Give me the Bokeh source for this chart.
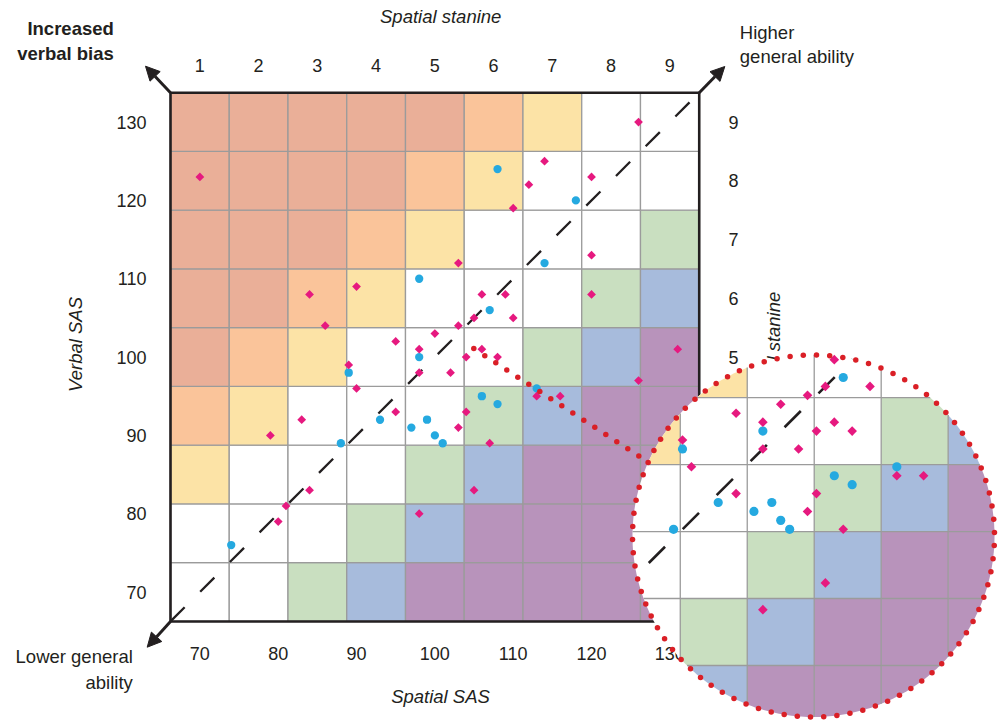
import numpy as np
from bokeh.plotting import figure
from bokeh.models import Range1d, Arrow, NormalHead
from bokeh.embed import file_html
from bokeh.resources import INLINE
from bokeh.core.properties import value

# ---------------- data ----------------
stanine_edges = [66.25, 73.75, 81.25, 88.75, 96.25, 103.75, 111.25, 118.75, 126.25, 133.75]
stanine_labels = ["1", "2", "3", "4", "5", "6", "7", "8", "9"]
sas_ticks = [70, 80, 90, 100, 110, 120, 130]

pink_spatial = [70, 84, 90, 86, 95, 100, 98, 89, 126, 114, 120, 112, 110, 103, 120, 106, 109, 120,
                105, 110, 103, 106, 104, 108, 131, 102, 98, 126, 113, 116, 104, 103, 107, 105, 98,
                90, 95, 83, 79, 84, 81, 80]
pink_verbal = [123, 108, 109, 104, 102, 103, 101, 99, 130, 125, 123, 122, 119, 112, 113, 108, 108, 108,
               105, 105, 104, 101, 100, 100, 101, 98, 98, 97, 95, 95, 93, 91, 89, 83, 80,
               96, 93, 92, 90, 83, 81, 79]
blue_spatial = [98, 98, 108, 118, 114, 107, 113, 106, 108, 99, 100, 101, 89, 93, 88, 97, 74]
blue_verbal = [110, 100, 124, 120, 112, 106, 96, 95, 94, 92, 90, 89, 98, 92, 89, 91, 76]

# ---------------- style ----------------
INK = "#231F20"
GRID = "#9b9b9b"
PINK = "#E6197F"
BLUE = "#25A9E0"
RED = "#DA1F26"
FONT = "Liberation Sans"
SALMON, ORANGE, YELLOW = "#EAAF98", "#FAC49A", "#FCE3A6"
GREEN, LBLUE, PURPLE = "#C9DFC0", "#A7BBDC", "#B893BB"


def bias_color(d):
    if d >= 4:
        return SALMON
    if d == 3:
        return ORANGE
    if d == 2:
        return YELLOW
    if d <= -4:
        return PURPLE
    if d == -3:
        return LBLUE
    if d == -2:
        return GREEN
    return "white"


# ---------------- geometry (picture pixels -> data) ----------------
W, H = 1003, 720
K = 7.833  # px per SAS point (both axes)


def X(px):
    return 66.25 + (px - 170.0) / K


def Y(py):
    return 133.75 - (py - 92.2) / K


p = figure(width=W, height=H, output_backend="svg", toolbar_location=None,
           x_range=Range1d(X(0), X(W)), y_range=Range1d(Y(H), Y(0)),
           x_axis_location=None, y_axis_location=None, min_border=0,
           outline_line_color=None, background_fill_color="white", border_fill_color="white")
p.grid.visible = False

# ---------------- main grid cells ----------------
L, Rr, T, B, C = [], [], [], [], []
for s in range(9):
    for v in range(9):
        L.append(stanine_edges[s]); Rr.append(stanine_edges[s + 1])
        B.append(stanine_edges[v]); T.append(stanine_edges[v + 1])
        C.append(bias_color(v - s))
p.quad(left=L, right=Rr, top=T, bottom=B, fill_color=C, line_color=GRID, line_width=1.3)
p.quad(left=[stanine_edges[0]], right=[stanine_edges[-1]], top=[stanine_edges[-1]],
       bottom=[stanine_edges[0]], fill_color=None, line_color=INK, line_width=2.6)

p.line(x=[stanine_edges[0], stanine_edges[-1]], y=[stanine_edges[0], stanine_edges[-1]],
       line_dash="20 22", line_width=2.3, line_color=INK)

p.scatter(x=blue_spatial, y=blue_verbal, marker="circle", size=8.3, fill_color=BLUE, line_color=None)
p.scatter(x=pink_spatial, y=pink_verbal, marker="square", angle=np.pi / 4, size=6.2,
          fill_color=PINK, line_color=None)

# ---------------- texts ----------------
centers = [(stanine_edges[i] + stanine_edges[i + 1]) / 2 for i in range(9)]


def txt(x, y, t, align="center", size="18.5px", style="normal", angle=0.0):
    p.text(x=x, y=y, text=t, text_font=value(FONT), text_font_size=size, text_font_style=style,
           text_align=align, text_baseline="middle", text_color=INK, angle=angle)


txt([X(440.2)], [Y(16.3)], ["Spatial stanine"], style="italic")
txt(centers, [Y(65)] * 9, stanine_labels, size="18px")
txt([X(733)] * 9, centers, stanine_labels, size="18px")
txt([X(146)] * len(sas_ticks), sas_ticks, [str(t) for t in sas_ticks], align="right", size="18px")
txt(sas_ticks, [Y(653)] * len(sas_ticks), [str(t) for t in sas_ticks], size="18px")
txt([X(113.3)] * 2, [Y(27.7), Y(52.7)], ["Increased", "verbal bias"], align="right", style="bold")
txt([X(739.3)] * 2, [Y(32.4), Y(55.9)], ["Higher", "general ability"], align="left")
txt([X(132.3)] * 2, [Y(655.5), Y(681.5)], ["Lower general", "ability"], align="right")
txt([X(440)], [Y(695.5)], ["Spatial SAS"], style="italic")
txt([X(75)], [Y(344)], ["Verbal SAS"], style="italic", angle=np.pi / 2)
txt([X(772.5)], [Y(350)], ["Verbal stanine"], style="italic", angle=np.pi / 2)

# ---------------- arrows ----------------
lo, hi = stanine_edges[0], stanine_edges[-1]
for xs, ys, xe, ye in [(lo, hi, X(145), Y(65.7)), (hi, hi, X(724.3), Y(66)),
                       (lo, lo, X(146.7), Y(646.7))]:
    p.add_layout(Arrow(end=NormalHead(size=14, fill_color=INK, line_color=INK, line_width=1),
                       x_start=xs, y_start=ys, x_end=xe, y_end=ye, line_width=3, line_color=INK))

# ---------------- magnifier ----------------
LC = (X(813), Y(535.5))   # lens centre
LR = 181 / K              # lens radius
ZC = (103.67, 88.25)      # zoomed point
MAG = 1.14


def mag(x, y):
    return LC[0] + MAG * (np.asarray(x, float) - ZC[0]), LC[1] + MAG * (np.asarray(y, float) - ZC[1])


# connector dotted line
cx0, cy0, cx1, cy1 = X(473.3), Y(348), X(649.3), Y(462.7)
p.scatter(x=np.linspace(cx0, cx1, 17), y=np.linspace(cy0, cy1, 17), marker="circle", size=5.5,
          fill_color=RED, line_color=None)

th = np.linspace(0, 2 * np.pi, 361)[:-1]
circ = [(LC[0] + LR * np.cos(a), LC[1] + LR * np.sin(a)) for a in th]
p.patch(x=[c[0] for c in circ], y=[c[1] for c in circ], fill_color="white", line_color=None)


def clip(poly, axis, bound, keep_above):
    out = []
    for i in range(len(poly)):
        cur, prev = poly[i], poly[i - 1]
        cin = cur[axis] >= bound if keep_above else cur[axis] <= bound
        pin = prev[axis] >= bound if keep_above else prev[axis] <= bound
        if cin != pin:
            t = (bound - prev[axis]) / (cur[axis] - prev[axis])
            out.append((prev[0] + t * (cur[0] - prev[0]), prev[1] + t * (cur[1] - prev[1])))
        if cin:
            out.append(cur)
    return out


pxs, pys, pcs = [], [], []
for l, r, t, b, c in zip(L, Rr, T, B, C):
    if c == "white":
        continue
    ml, mb = mag(l, b)
    mr, mt = mag(r, t)
    poly = circ
    for axis, bound, keep in [(0, float(ml), True), (0, float(mr), False),
                              (1, float(mb), True), (1, float(mt), False)]:
        poly = clip(poly, axis, bound, keep)
        if not poly:
            break
    if len(poly) >= 3:
        pxs.append([q[0] for q in poly]); pys.append([q[1] for q in poly]); pcs.append(c)
p.patches(xs=pxs, ys=pys, fill_color=pcs, line_color=None)

gx, gy = [], []
for e in stanine_edges:
    ex, ey = mag(e, e)
    ex, ey = float(ex), float(ey)
    if abs(ex - LC[0]) < LR:
        h = np.sqrt(LR ** 2 - (ex - LC[0]) ** 2)
        gx.append([ex, ex]); gy.append([LC[1] - h, LC[1] + h])
    if abs(ey - LC[1]) < LR:
        h = np.sqrt(LR ** 2 - (ey - LC[1]) ** 2)
        gx.append([LC[0] - h, LC[0] + h]); gy.append([ey, ey])
p.multi_line(xs=gx, ys=gy, line_color=GRID, line_width=1.3)

# magnified diagonal
a, b = ZC
r = LR / MAG
disc = (a + b) ** 2 - 2 * (a * a + b * b - r * r)
t1 = ((a + b) - np.sqrt(disc)) / 2
t2 = ((a + b) + np.sqrt(disc)) / 2
d1x, d1y = mag([t1, t2], [t1, t2])
dist = MAG * (t1 - lo) * np.sqrt(2) * K
p.line(x=list(d1x), y=list(d1y), line_dash="23 25", line_dash_offset=int(round(dist)) % 48,
       line_width=2.6, line_color=INK)

# magnified points
bx, by = mag(blue_spatial, blue_verbal)
keep = np.hypot(bx - LC[0], by - LC[1]) < LR
p.scatter(x=bx[keep], y=by[keep], marker="circle", size=9.2, fill_color=BLUE, line_color=None)
qx, qy = mag(pink_spatial, pink_verbal)
keep = np.hypot(qx - LC[0], qy - LC[1]) < LR
p.scatter(x=qx[keep], y=qy[keep], marker="square", angle=np.pi / 4, size=6.8,
          fill_color=PINK, line_color=None)

# dotted lens outline
dth = np.linspace(0, 2 * np.pi, 87)[:-1] + 0.02
p.scatter(x=LC[0] + LR * np.cos(dth), y=LC[1] + LR * np.sin(dth), marker="circle", size=5.5,
          fill_color=RED, line_color=None)

open("out.html", "w").write(file_html(p, INLINE))
